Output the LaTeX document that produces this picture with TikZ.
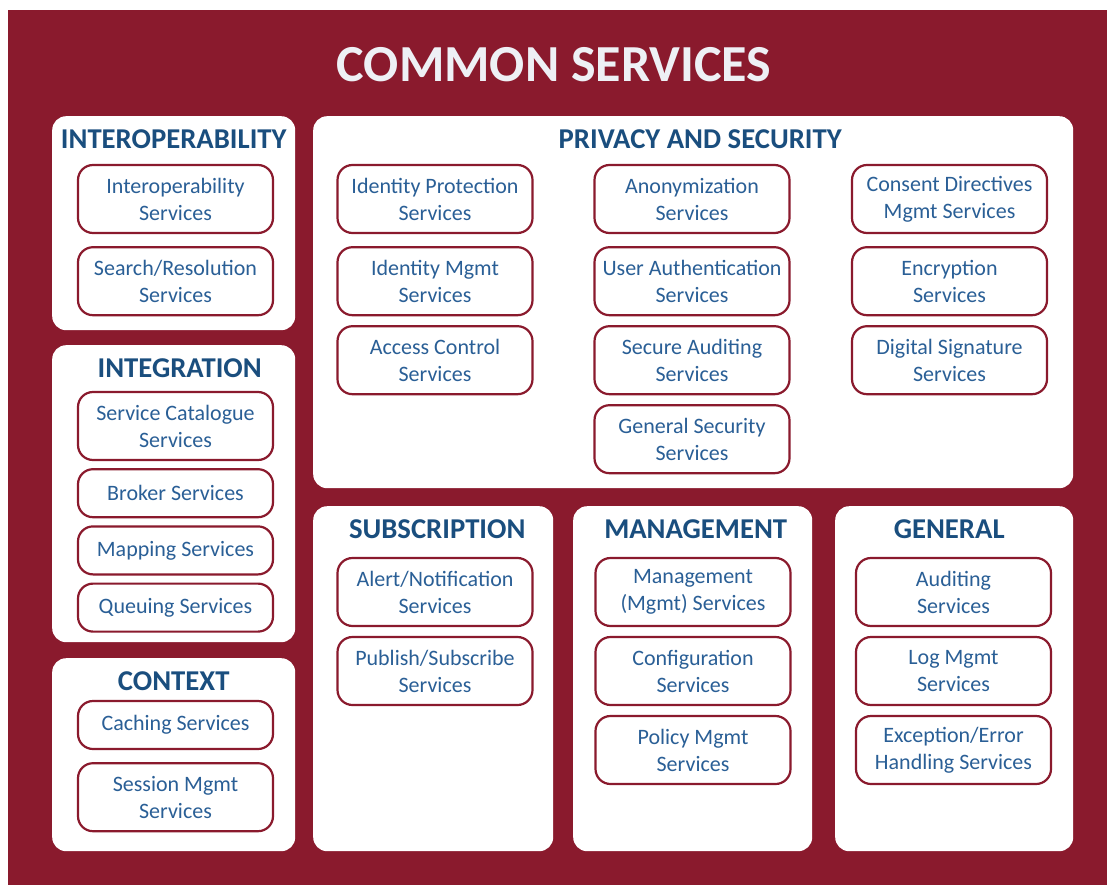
\documentclass[tikz,border=0pt]{standalone}
\usepackage{fontspec}
\setmainfont{Carlito}
\usetikzlibrary{positioning}
\definecolor{csred}{HTML}{8A1A2D}
\definecolor{headblue}{HTML}{1A4E7E}
\definecolor{svcblue}{HTML}{2A5F96}
\definecolor{titlegray}{HTML}{EEF0F5}

\begin{document}
\begin{tikzpicture}[x=1pt, y=-1pt, node distance=9pt,
  panel/.style={fill=white, rounded corners=14pt, inner sep=0pt, anchor=north west},
  head/.style={inner sep=0pt, text=headblue, font=\fontsize{28.7}{32}\selectfont\bfseries},
  svc/.style={draw=csred, line width=2.2pt, rounded corners=15pt, fill=white, inner sep=0pt,
    minimum width=195pt, minimum height=68pt, align=center, text=svcblue,
    font=\fontsize{22}{27}\selectfont},
  short svc/.style={svc, minimum height=48pt}]
  \useasboundingbox (0,0) rectangle (1107,885);
  \fill[csred] (8,10) rectangle (1107,885);
  \node[inner sep=0pt, text=titlegray, font=\fontsize{52}{60}\selectfont\bfseries] (title) at (554,65) {COMMON SERVICES};

  \node[panel, minimum width=243pt, minimum height=214pt] (interop) at (52,116) {};
  \node[panel, minimum width=243pt, minimum height=297pt] (integ) at (52,345) {};
  \node[panel, minimum width=243pt, minimum height=193pt] (context) at (52,658) {};
  \node[panel, minimum width=760pt, minimum height=372pt] (privacy) at (313,116) {};
  \node[panel, minimum width=240pt, minimum height=345pt] (subscr) at (313,506) {};
  \node[panel, minimum width=239pt, minimum height=345pt] (mgmt) at (573,506) {};
  \node[panel, minimum width=238pt, minimum height=345pt] (general) at (835,506) {};

  \node[head, below=13.5pt of interop.north] (interop head) {INTEROPERABILITY};
  \node[head, below=13.5pt of integ.north, xshift=6pt] (integ head) {INTEGRATION};
  \node[head, below=13.5pt of context.north] (context head) {CONTEXT};
  \node[head, below=13.5pt of privacy.north, xshift=7pt] (privacy head) {PRIVACY AND SECURITY};
  \node[head, below=13pt of subscr.north, xshift=4pt] (subscr head) {SUBSCRIPTION};
  \node[head, below=13pt of mgmt.north, xshift=3pt] (mgmt head) {MANAGEMENT};
  \node[head, below=13pt of general.north, xshift=-5pt] (general head) {GENERAL};

  \node[svc] (interop1) at (175.5,199) {Interoperability\\Services};
  \node[svc] (interop2) [below=12pt of interop1] {Search/Resolution\\Services};

  \node[svc] (integ1) at (175.5,426) {Service Catalogue\\Services};
  \node[short svc] (integ2) [below=7pt of integ1] {Broker Services};
  \node[short svc] (integ3) [below=7pt of integ2] {Mapping Services};
  \node[short svc] (integ4) [below=7pt of integ3] {Queuing Services};

  \node[short svc] (context1) at (175.5,725) {Caching Services};
  \node[svc] (context2) [below=12pt of context1] {Session Mgmt\\Services};

  \node[svc] (privacy1) at (435,199) {Identity Protection\\Services};
  \node[svc] (privacy2) [below=12pt of privacy1] {Identity Mgmt\\Services};
  \node[svc] (privacy3) [below of=privacy2, node distance=79pt] {Access Control\\Services};
  \node[svc] (privacy4) at (692,199) {Anonymization\\Services};
  \node[svc] (privacy5) [below=12pt of privacy4] {User Authentication\\Services};
  \node[svc] (privacy6) [below of=privacy5, node distance=79pt] {Secure Auditing\\Services};
  \node[svc] (privacy7) [below of=privacy6, node distance=79pt] {General Security\\Services};
  \node[svc] (privacy8) at (949.5,199) {Consent Directives\\Mgmt Services};
  \node[svc] (privacy9) [below=12pt of privacy8] {Encryption\\Services};
  \node[svc] (privacy10) [below of=privacy9, node distance=79pt] {Digital Signature\\Services};

  \node[svc] (subscr1) at (435,592) {Alert/Notification\\Services};
  \node[svc] (subscr2) [below of=subscr1, node distance=79pt] {Publish/Subscribe\\Services};

  \node[svc] (mgmt1) at (693,592) {Management\\(Mgmt) Services};
  \node[svc] (mgmt2) [below of=mgmt1, node distance=79pt] {Configuration\\Services};
  \node[svc] (mgmt3) [below of=mgmt2, node distance=79pt] {Policy Mgmt\\Services};

  \node[svc] (general1) at (953.5,592) {Auditing\\Services};
  \node[svc] (general2) [below of=general1, node distance=79pt] {Log Mgmt\\Services};
  \node[svc] (general3) [below of=general2, node distance=79pt] {Exception/Error\\Handling Services};
\end{tikzpicture}
\end{document}
